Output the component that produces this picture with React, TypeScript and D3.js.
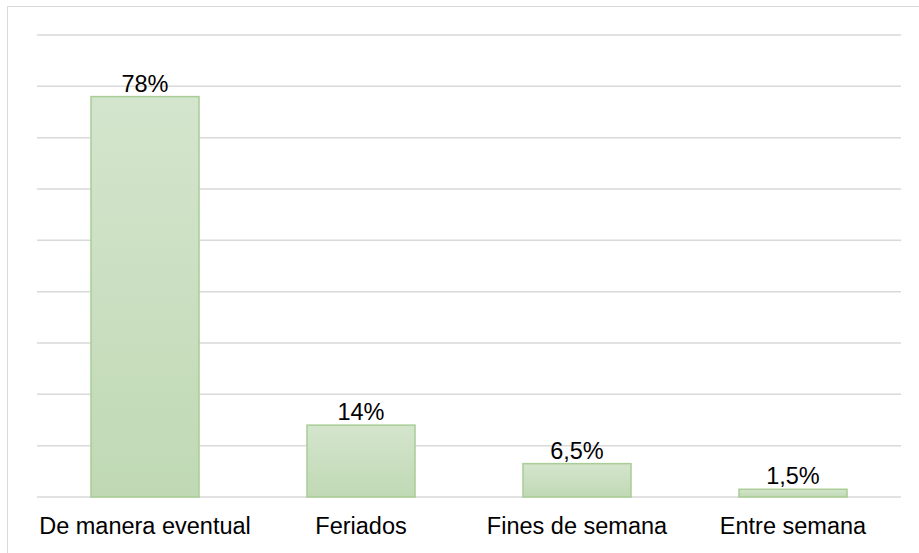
import React from 'react';
import * as d3 from 'd3';

const categories = ['De manera eventual', 'Feriados', 'Fines de semana', 'Entre semana'];
const values = [78, 14, 6.5, 1.5];
const valueLabels = ['78%', '14%', '6,5%', '1,5%'];
const gridTicks = [0, 10, 20, 30, 40, 50, 60, 70, 80, 90];

const W = 919, H = 553;
const left = 37, right = 901, top = 35, bottom = 497;

export default function App() {
    const x = d3.scaleBand<string>()
        .domain(categories)
        .range([left, right])
        .paddingInner(0.5)
        .paddingOuter(0.25);
    const y = d3.scaleLinear().domain([0, 90]).range([bottom, top]);

    return (
        <svg width={W} height={H} style={{ position: 'absolute', left: 0, top: 0 }}
             fontFamily="'Liberation Sans', Arial, sans-serif">
            <defs>
                <linearGradient id="barFill" x1="0" y1="0" x2="0" y2="1">
                    <stop offset="0" stopColor="#d4e5cd" />
                    <stop offset="1" stopColor="#c0d9b4" />
                </linearGradient>
            </defs>
            <rect x={0} y={0} width={W} height={H} fill="#fff" />
            {/* chart frame */}
            <rect x={7.5} y={6.5} width={W} height={H} fill="none" stroke="#d9d9d9" strokeWidth={1} />
            {/* gridlines */}
            {gridTicks.map(t => (
                <line key={t} x1={left} x2={right} y1={y(t)} y2={y(t)} stroke="#d9d9d9" strokeWidth={1.5} />
            ))}
            {/* bars */}
            {categories.map((c, i) => (
                <rect key={c}
                      x={x(c)}
                      y={y(values[i])}
                      width={x.bandwidth()}
                      height={bottom - y(values[i])}
                      fill="url(#barFill)"
                      stroke="#a8cd95"
                      strokeWidth={1.5} />
            ))}
            {/* value labels */}
            {categories.map((c, i) => (
                <text key={c}
                      x={(x(c) || 0) + x.bandwidth() / 2}
                      y={y(values[i]) - 5}
                      textAnchor="middle"
                      fontSize={23.5}
                      fill="#000">{valueLabels[i]}</text>
            ))}
            {/* category labels */}
            {categories.map(c => (
                <text key={c}
                      x={(x(c) || 0) + x.bandwidth() / 2}
                      y={534}
                      textAnchor="middle"
                      fontSize={23.5}
                      fill="#000">{c}</text>
            ))}
        </svg>
    );
}
